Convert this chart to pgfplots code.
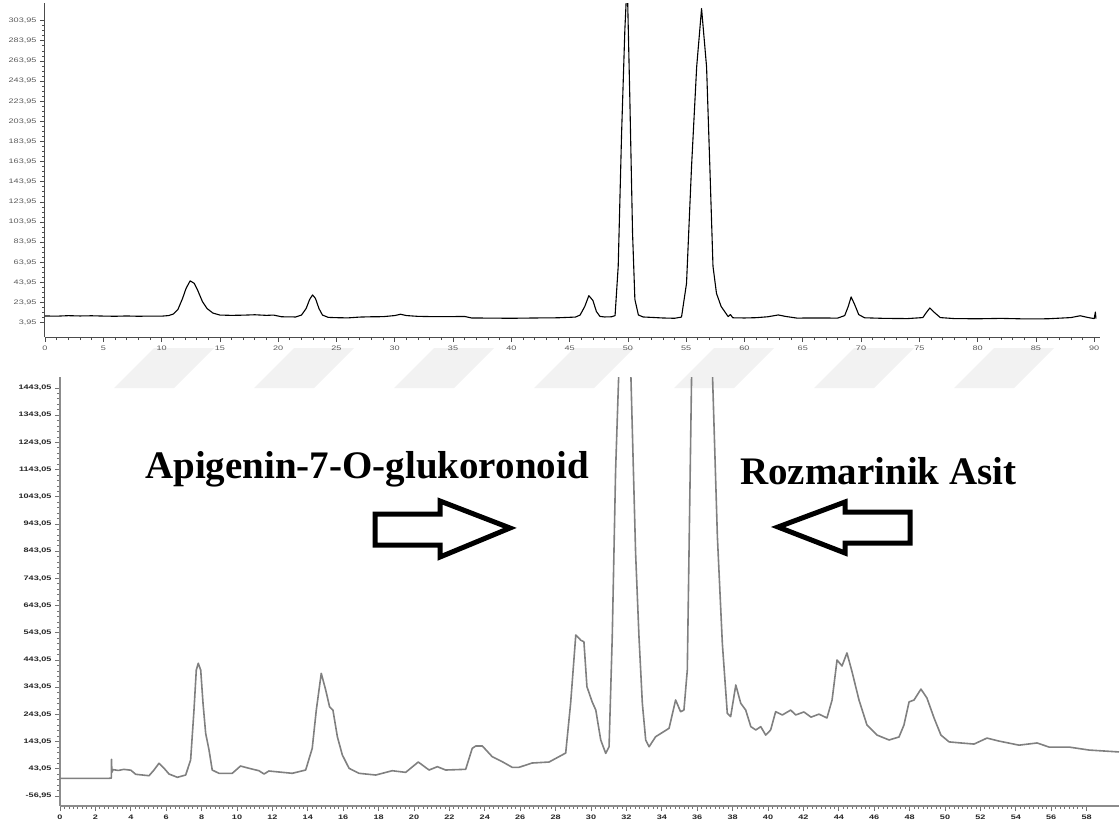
\documentclass[border=0pt]{standalone}
\usepackage{pgfplots}
\pgfplotsset{compat=1.18}
\usepackage{fontspec}
\setmainfont{Liberation Sans}
\newfontfamily\titlefont{Liberation Serif}

\pgfplotsset{
  chrom/.style={
    scale only axis,
    axis lines=left,
    axis line style={-},
    tick align=outside,
    major tick length=5pt,
    minor tick length=3pt,
    /pgf/number format/assume math mode=true,
  }
}

\begin{document}
\begin{tikzpicture}
\useasboundingbox (0pt,0pt) rectangle (1120pt,-820pt);

% faint background bands
\begin{scope}[x=1pt,y=1pt]
\foreach \bx in {114,254,394,534,674,814,954} {
  \fill[black!5] (\bx,-388) -- (\bx+40,-348) -- (\bx+100,-348) -- (\bx+60,-388) -- cycle;
}
\end{scope}

% ---------- upper chromatogram ----------
\begin{axis}[chrom,
  at={(45pt,-337pt)}, anchor=south west,
  width=1055pt, height=334pt,
  xmin=0, xmax=90.5, ymin=-10.3, ymax=321.5,
  axis line style={black!70, line width=1pt},
  tick style={black!70, line width=0.7pt},
  xtick={0,5,10,15,20,25,30,35,40,45,50,55,60,65,70,75,80,85,90},
  minor x tick num=4,
  ytick={3.95,23.95,43.95,63.95,83.95,103.95,123.95,143.95,163.95,183.95,203.95,223.95,243.95,263.95,283.95,303.95},
  minor y tick num=3,
  tick label style={font=\fontsize{6.5}{7}\selectfont, text=black!65},
  xticklabel={\scalebox{1.4}[1]{\pgfmathprintnumber{\tick}}},
  yticklabel={\scalebox{1.4}[1]{\pgfmathprintnumber[fixed,fixed zerofill,precision=2,use comma]{\tick}}},
]
\addplot[black, line width=1.1pt, line join=round] coordinates {
(0.0,10.6) (1,10.4) (2,10.9) (3,10.6) (4,10.8) (5,10.5) (6,10.3) (7,10.6) (8,10.3) (9,10.5) (10,10.4)
(10.6,11) (11,12.5) (11.4,17) (11.8,28) (12.1,38) (12.45,45.5) (12.8,43) (13.1,36) (13.5,25) (13.9,18)
(14.4,13.5) (15,11.5) (16,11.2) (17,11.4) (18,11.8) (19,11.2) (19.6,11.5) (20.3,9.8) (21.5,9.6)
(22,11.5) (22.4,18) (22.7,27) (22.95,31.5) (23.2,28) (23.5,18) (23.8,11.5) (24.3,9.2)
(25,8.9) (26,8.7) (27,9.5) (28,9.8) (29,9.9) (30,11) (30.5,12.3) (31,11) (32,10.2) (33,10) (34,9.9)
(35,10) (36,10.1) (36.6,8.6) (38,8.5) (40,8.3) (42,8.6) (44,8.8) (45.5,9.5)
(45.9,11.5) (46.3,20) (46.65,30.8) (47.0,26) (47.3,15) (47.6,10.2) (48,9.6) (48.6,9.8)
(48.9,11) (49.17,60) (49.46,192) (49.74,295) (49.94,345) (50.17,225) (50.4,93) (50.6,27) (50.9,11.6)
(51.3,9.6) (52,9.2) (53,8.6) (54,8.3) (54.6,9.5)
(55.03,43) (55.46,159) (55.9,258) (56.32,316) (56.75,258) (57.03,159) (57.3,60) (57.6,33) (58.0,20)
(58.6,10) (58.8,12) (59,8.8) (60,8.6) (61,8.9) (62,9.8) (62.9,11.6) (63.6,10) (64.5,8.5) (66,8.6) (68,8.5)
(68.6,11) (68.9,20) (69.15,29.5) (69.45,22) (69.8,12) (70.3,8.8) (72,8.2) (74,8.0)
(75.3,9) (75.6,14) (75.9,18.5) (76.3,14) (76.8,9) (78,8) (80,7.8) (82,8.2) (84,7.7) (86,7.8)
(88,9) (88.8,10.8) (89.5,9) (90.0,8) (90.1,14.5) (90.15,8)
};
\end{axis}

% ---------- lower chromatogram ----------
\begin{axis}[chrom,
  at={(60pt,-806pt)}, anchor=south west,
  width=1059pt, height=429pt,
  xmin=0, xmax=59.83, ymin=-93.7, ymax=1483.3,
  axis line style={black!45, line width=1.6pt},
  tick style={black!55, line width=0.7pt},
  xtick={0,2,...,58},
  minor x tick num=7,
  ytick={-56.95,43.05,143.05,243.05,343.05,443.05,543.05,643.05,743.05,843.05,943.05,1043.05,1143.05,1243.05,1343.05,1443.05},
  minor y tick num=4,
  tick label style={font=\bfseries\fontsize{6.5}{7}\selectfont, text=black!85},
  xticklabel={\scalebox{1.4}[1]{\pgfmathprintnumber{\tick}}},
  yticklabel={\scalebox{1.4}[1]{\pgfmathprintnumber[fixed,fixed zerofill,precision=2,use comma,1000 sep={}]{\tick}}},
]
\addplot[black!50, line width=1.6pt, line join=round] coordinates {
(0,8.1) (2.77,8.1) (2.90,9) (2.91,78) (2.93,30) (3.0,40) (3.3,37) (3.6,41) (4.0,38)
(4.28,22.8) (5.03,17.7) (5.31,38.6) (5.59,63.3) (5.88,44.9) (6.16,23.9) (6.63,11.8) (7.1,20.2)
(7.38,75.4) (7.57,259) (7.7,406) (7.81,431) (7.95,406) (8.08,284) (8.23,173.5) (8.42,112) (8.6,38.6)
(8.98,26.5) (9.73,26.5) (10.2,53.3) (10.68,44.9) (11.24,36) (11.53,23.9) (11.8,35) (13.12,26.5)
(13.88,38.6) (14.25,118.4) (14.48,259) (14.76,394) (15.01,333) (15.23,271) (15.42,259) (15.67,161)
(15.95,94) (16.33,45) (16.89,26.5) (17.84,20.2) (18.77,36) (19.53,30) (20.24,68) (20.85,38.6)
(21.32,50.8) (21.79,38.6) (22.92,41.2) (23.29,118.4) (23.49,127) (23.86,127) (24.42,87.5)
(24.99,69) (25.55,48.5) (25.93,48.5) (26.67,64.3) (27.63,68) (28.57,101) (28.85,285) (29.14,535)
(29.42,516) (29.6,510) (29.77,345) (30.06,290) (30.27,259) (30.55,149) (30.83,100) (31.02,124)
(31.2,529) (31.39,1141) (31.58,1520) (31.9,1650) (32.24,1520) (32.52,835) (32.71,529) (32.9,284)
(33.09,149) (33.28,124) (33.65,161) (34.41,192) (34.78,296) (35.06,253) (35.25,259) (35.44,406)
(35.69,1520) (36.27,1650) (36.85,1520) (37.14,896) (37.42,504) (37.7,247) (37.89,235) (38.18,351)
(38.46,284) (38.74,259) (39.03,198) (39.31,186) (39.59,198) (39.87,167) (40.15,186) (40.43,253)
(40.81,241) (41.28,259) (41.56,241) (42.03,252) (42.43,233) (42.88,244) (43.33,230) (43.62,296)
(43.9,443) (44.18,421) (44.46,469) (44.75,399) (45.14,296) (45.59,204) (46.16,167) (46.84,149)
(47.4,160) (47.68,204) (47.97,289) (48.25,296) (48.64,336) (48.98,303) (49.38,230) (49.77,167)
(50.23,142) (50.9,138) (51.64,134) (52.37,156) (53.05,145) (54.18,130) (55.2,138) (55.88,123)
(57.0,123) (58.14,112) (59.83,105)
};
\end{axis}

% compound labels and arrows
\begin{scope}[x=1pt,y=1pt]
\node[anchor=base west, inner sep=0pt, font=\titlefont\bfseries\fontsize{39}{44}\selectfont] at (145,-478) {Apigenin-7-O-glukoronoid};
\node[anchor=base west, inner sep=0pt, font=\titlefont\bfseries\fontsize{39}{44}\selectfont] at (740,-484) {Rozmarinik Asit};
\draw[line width=5pt, fill=white] (375,-514) -- (440,-514) -- (440,-501) -- (510,-528) -- (440,-557) -- (440,-545) -- (375,-545) -- cycle;
\draw[line width=5pt, fill=white] (910,-512) -- (845,-512) -- (845,-502) -- (778,-527) -- (845,-553) -- (845,-543) -- (910,-543) -- cycle;
\end{scope}
\end{tikzpicture}
\end{document}
